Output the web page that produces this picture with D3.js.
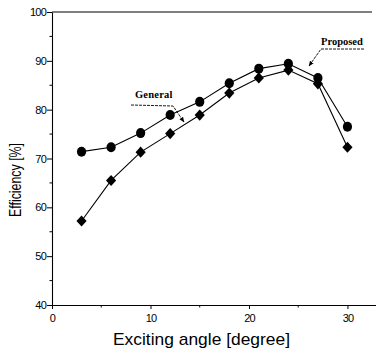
<!DOCTYPE html>
<html><head><meta charset="utf-8">
<script src="https://cdn.jsdelivr.net/npm/d3@7/dist/d3.min.js"></script>
<style>body{margin:0;background:#fff}svg{display:block}</style>
</head><body>
<svg id="c" width="376" height="358"></svg>
<script>
const angles = [3, 6, 9, 12, 15, 18, 21, 24, 27, 30];
const proposed = [71.4, 72.3, 75.2, 78.9, 81.6, 85.4, 88.4, 89.4, 86.5, 76.5];
const general = [57.2, 65.5, 71.3, 75.1, 78.9, 83.4, 86.5, 88.1, 85.3, 72.3];
const xTicks = [0, 10, 20, 30];
const yTicks = [40, 50, 60, 70, 80, 90, 100];
const xMinor = [5, 15, 25];
const yMinor = [45, 55, 65, 75, 85, 95];

const svg = d3.select("#c");
const x = d3.scaleLinear().domain([0, 33]).range([52, 377]);
const y = d3.scaleLinear().domain([40, 100]).range([305, 12]);
const tickFont = "'Liberation Sans Narrow','Arial Narrow',sans-serif";

svg.append("line").attr("x1", 52).attr("x2", 372).attr("y1", y(100)).attr("y2", y(100)).attr("stroke", "#000").attr("stroke-width", 1.2);

const gx = svg.append("g").attr("transform", `translate(0,${y(40)})`)
  .call(d3.axisBottom(x).tickValues(xTicks).tickSize(4).tickSizeOuter(0).tickFormat(d3.format("d")));
gx.select(".domain").attr("stroke-width", 1.1);
gx.selectAll("text").attr("font-family", tickFont).attr("font-size", 11).attr("dy", "0.9em").attr("letter-spacing", "-0.8");
gx.selectAll(".minor").data(xMinor).enter().append("line").attr("class", "minor")
  .attr("x1", d => x(d)).attr("x2", d => x(d)).attr("y1", 0).attr("y2", 2.5).attr("stroke", "#000");

const gy = svg.append("g").attr("transform", `translate(${x(0)},0)`)
  .call(d3.axisLeft(y).tickValues(yTicks).tickSize(5).tickSizeOuter(0).tickFormat(d3.format("d")));
gy.select(".domain").attr("stroke-width", 1.1);
gy.selectAll("text").attr("font-family", tickFont).attr("font-size", 11).attr("letter-spacing", "-0.8").attr("x", -6);
gy.selectAll(".minor").data(yMinor).enter().append("line").attr("class", "minor")
  .attr("x1", 0).attr("x2", -2.5).attr("y1", d => y(d)).attr("y2", d => y(d)).attr("stroke", "#000");

svg.append("text").attr("x", 113).attr("y", 345)
  .attr("font-family", "'Liberation Sans Narrow',sans-serif").attr("font-size", 17)
  .attr("textLength", 177).attr("lengthAdjust", "spacingAndGlyphs")
  .text("Exciting angle [degree]");
svg.append("text").attr("transform", "translate(21,217) rotate(-90)")
  .attr("font-family", "'Liberation Sans Narrow',sans-serif").attr("font-size", 16)
  .attr("textLength", 74).attr("lengthAdjust", "spacingAndGlyphs")
  .text("Efficiency [%]");

const line = d3.line().x((d, i) => x(angles[i])).y(d => y(d));
svg.append("path").datum(proposed).attr("d", line).attr("fill", "none").attr("stroke", "#000").attr("stroke-width", 1.1);
svg.append("path").datum(general).attr("d", line).attr("fill", "none").attr("stroke", "#000").attr("stroke-width", 1.1);

svg.selectAll(".circ").data(proposed).enter().append("ellipse").attr("class", "circ")
  .attr("cx", (d, i) => x(angles[i])).attr("cy", d => y(d)).attr("rx", 4.6).attr("ry", 5).attr("fill", "#000");
const diamond = d3.symbol().type(d3.symbolDiamond2).size(66);
svg.selectAll(".diam").data(general).enter().append("path").attr("class", "diam")
  .attr("d", diamond).attr("transform", (d, i) => `translate(${x(angles[i])},${y(d)}) scale(1,1.1)`).attr("fill", "#000");

const serif = "'Liberation Serif','Times New Roman',serif";
svg.append("text").attr("x", 135).attr("y", 98).attr("font-family", serif).attr("font-weight", "bold")
  .attr("font-size", 10.5).attr("letter-spacing", "0.2").text("General");
svg.append("text").attr("x", 321).attr("y", 45).attr("font-family", serif).attr("font-weight", "bold")
  .attr("font-size", 10.5).text("Proposed");

const defs = svg.append("defs");
defs.append("marker").attr("id", "ah").attr("viewBox", "0 0 10 10").attr("refX", 9).attr("refY", 5)
  .attr("markerWidth", 6).attr("markerHeight", 6).attr("orient", "auto")
  .append("path").attr("d", "M0,1 L10,5 L0,9 Z").attr("fill", "#000");

svg.append("path").attr("d", "M131,105 L173,106 L184,122").attr("fill", "none").attr("stroke", "#000")
  .attr("stroke-width", 0.9).attr("stroke-dasharray", "3,1").attr("marker-end", "url(#ah)");
svg.append("path").attr("d", "M364,49 L321,49 L309,66").attr("fill", "none").attr("stroke", "#000")
  .attr("stroke-width", 0.9).attr("stroke-dasharray", "3,1").attr("marker-end", "url(#ah)");
</script>
</body></html>
